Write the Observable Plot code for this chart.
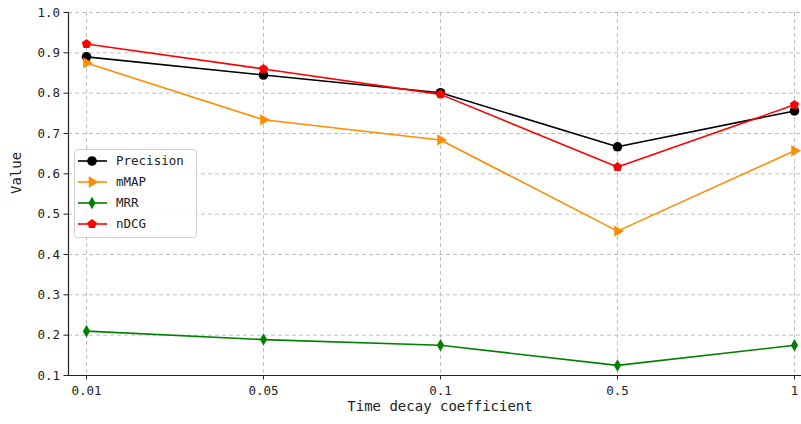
<!DOCTYPE html>
<html><head><meta charset="utf-8">
<script src="https://cdn.jsdelivr.net/npm/d3@7"></script>
<script src="https://cdn.jsdelivr.net/npm/@observablehq/plot@0.6"></script>
<style>
body{margin:0;background:#fff}
#chart{position:relative;width:801px;height:424px;overflow:hidden}
</style>
</head><body><div id="chart"></div>
<script>
const xLabels = ["0.01", "0.05", "0.1", "0.5", "1"];
const precision = [0.890, 0.845, 0.801, 0.667, 0.756];
const mmap = [0.875, 0.734, 0.684, 0.458, 0.657];
const mrr = [0.210, 0.189, 0.175, 0.125, 0.175];
const ndcg = [0.922, 0.860, 0.797, 0.617, 0.771];
const seriesNames = ["Precision", "mMAP", "MRR", "nDCG"];
const seriesColors = ["black", "darkorange", "green", "red"];
const seriesValues = [precision, mmap, mrr, ndcg];
const yTicks = [0.1, 0.2, 0.3, 0.4, 0.5, 0.6, 0.7, 0.8, 0.9, 1.0];

const pentagon = {
  draw(ctx, size) {
    const r = Math.sqrt(size / 2.378);
    for (let k = 0; k < 5; k++) {
      const a = -Math.PI / 2 + k * 2 * Math.PI / 5;
      const px = r * Math.cos(a), py = r * Math.sin(a);
      if (k === 0) ctx.moveTo(px, py); else ctx.lineTo(px, py);
    }
    ctx.closePath();
  }
};
const seriesSymbols = ["circle", "triangle", "diamond", pentagon];
const seriesRotate = [0, 90, 0, 0];
const seriesR = [4.8, 4.2, 3.8, 4.3];

const data = [];
seriesNames.forEach((name, i) => {
  xLabels.forEach((x, j) => data.push({series: name, x, value: seriesValues[i][j]}));
});

const FONT = "DejaVu Sans Mono";
const marks = [
  Plot.gridX({stroke: "#b0b0b0", strokeOpacity: 1, strokeDasharray: "4,3", strokeWidth: 0.8}),
  Plot.gridY(yTicks, {stroke: "#b0b0b0", strokeOpacity: 1, strokeDasharray: "4,3", strokeWidth: 0.8}),
  Plot.axisY(yTicks, {tickFormat: d3.format(".1f"), tickSize: 4.5, tickPadding: 4, label: null, fontSize: 12.5, color: "#222"}),
  Plot.axisX({tickSize: 4.5, tickPadding: 6, label: null, fontSize: 12.5, color: "#222"}),
  Plot.frame({anchor: "left", stroke: "#222", strokeWidth: 1.2}),
  Plot.frame({anchor: "bottom", stroke: "#222", strokeWidth: 1.2}),
  Plot.text(["Time decay coefficient"], {frameAnchor: "bottom", dy: 35, fontSize: 14, fill: "#222"}),
  Plot.text(["Value"], {frameAnchor: "left", dx: -52, rotate: -90, fontSize: 14, fill: "#222"})
];
seriesNames.forEach((name, i) => {
  const d = data.filter(r => r.series === name);
  marks.push(Plot.line(d, {x: "x", y: "value", stroke: seriesColors[i], strokeWidth: 1.6}));
  marks.push(Plot.dot(d, {x: "x", y: "value", fill: seriesColors[i], stroke: "none",
    symbol: seriesSymbols[i], r: seriesR[i], rotate: seriesRotate[i]}));
});

const chart = Plot.plot({
  width: 801,
  height: 424,
  marginLeft: 68,
  marginRight: -10,
  marginTop: 12,
  marginBottom: 49,
  style: {fontFamily: FONT, background: "white", overflow: "hidden"},
  x: {type: "point", domain: xLabels, range: [85, 795], padding: 0},
  y: {domain: [0.1, 1.0]},
  marks
});
document.getElementById("chart").appendChild(chart);

// Legend
const svg = d3.select(chart);
const lg = svg.append("g");
lg.append("rect").attr("x", 74.5).attr("y", 149.5).attr("width", 122).attr("height", 88)
  .attr("rx", 3).attr("fill", "white").attr("fill-opacity", 0.85).attr("stroke", "#d0d0d0");
seriesNames.forEach((name, i) => {
  const y = 161 + i * 21;
  lg.append("line").attr("x1", 78).attr("x2", 107).attr("y1", y).attr("y2", y)
    .attr("stroke", seriesColors[i]).attr("stroke-width", 1.6);
  const sym = typeof seriesSymbols[i] === "string"
    ? {circle: d3.symbolCircle, triangle: d3.symbolTriangle, diamond: d3.symbolDiamond}[seriesSymbols[i]]
    : seriesSymbols[i];
  lg.append("path").attr("d", d3.symbol(sym, Math.PI * seriesR[i] ** 2)())
    .attr("transform", `translate(92,${y}) rotate(${seriesRotate[i]})`)
    .attr("fill", seriesColors[i]);
  lg.append("text").attr("x", 116).attr("y", y).attr("dy", "0.35em")
    .attr("text-anchor", "start")
    .attr("font-family", FONT).attr("font-size", 12.5).attr("fill", "#222").text(name);
});
</script>
</body></html>
